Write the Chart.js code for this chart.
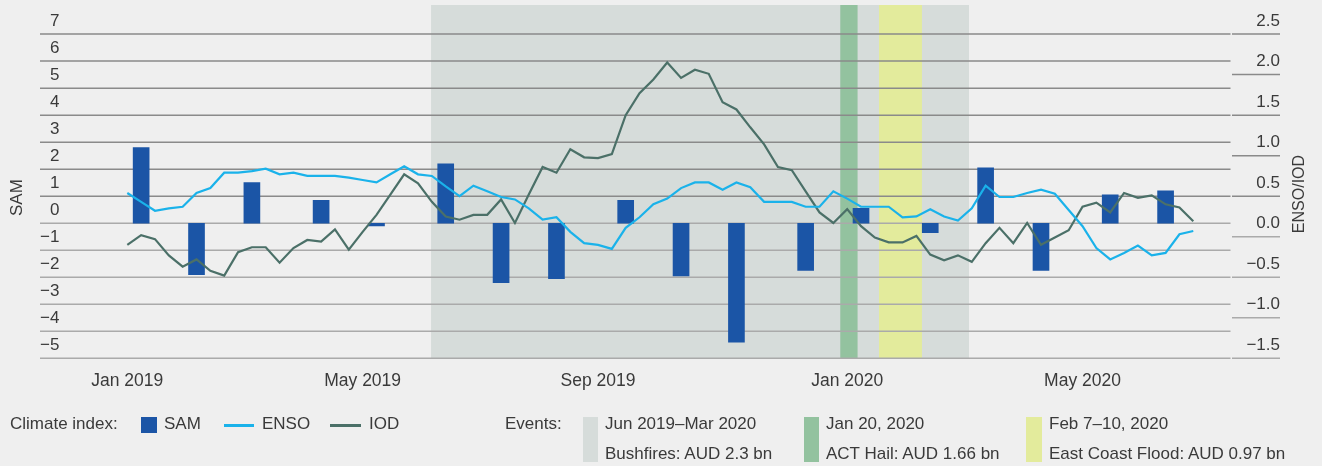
<!DOCTYPE html>
<html>
<head>
<meta charset="utf-8">
<script src="https://cdn.jsdelivr.net/npm/chart.js@4.4.1/dist/chart.umd.min.js"></script>
<style>
  body { margin: 0; background: #efefef; font-family: "Liberation Sans", Arial, sans-serif; color: #3a3a3a; }
  #wrap { position: relative; width: 1322px; height: 466px; }
  #chart { position: absolute; left: 0; top: 0; }
  .lg { position: absolute; font-size: 17px; line-height: 20px; white-space: nowrap; }
  .sw { position: absolute; }
</style>
</head>
<body>
<div id="wrap">
  <canvas id="chart" width="1322" height="466"></canvas>

  <span class="lg" style="left:10px; top:414px;">Climate index:</span>
  <span class="sw" style="left:141px; top:417px; width:16px; height:16px; background:#1b55a6;"></span>
  <span class="lg" style="left:164px; top:414px;">SAM</span>
  <span class="sw" style="left:224px; top:424px; width:30px; height:3px; background:#1ab2ea;"></span>
  <span class="lg" style="left:262px; top:414px;">ENSO</span>
  <span class="sw" style="left:330px; top:424px; width:31px; height:3px; background:#4b7068;"></span>
  <span class="lg" style="left:369px; top:414px;">IOD</span>

  <span class="lg" style="left:505px; top:414px;">Events:</span>
  <span class="sw" style="left:583px; top:417px; width:15px; height:45px; background:#d6dcda;"></span>
  <span class="lg" style="left:605px; top:414px;">Jun 2019–Mar 2020</span>
  <span class="lg" style="left:605px; top:444px;">Bushfires: AUD 2.3 bn</span>
  <span class="sw" style="left:804px; top:417px; width:15px; height:45px; background:#93c29f;"></span>
  <span class="lg" style="left:826px; top:414px;">Jan 20, 2020</span>
  <span class="lg" style="left:826px; top:444px;">ACT Hail: AUD 1.66 bn</span>
  <span class="sw" style="left:1026px; top:417px; width:16px; height:45px; background:#e3eb9c;"></span>
  <span class="lg" style="left:1049px; top:414px;">Feb 7–10, 2020</span>
  <span class="lg" style="left:1049px; top:444px;">East Coast Flood: AUD 0.97 bn</span>
</div>

<script>
// x axis: week index from the first week of Jan 2019
var xTickPos = [0, 17, 34, 52, 69];
var xTickLabels = ["Jan 2019", "May 2019", "Sep 2019", "Jan 2020", "May 2020"];

// SAM, monthly bars (week index of each bar)
var samWeek = [1, 5, 9, 14, 18, 23, 27, 31, 36, 40, 44, 49, 53, 58, 62, 66, 71, 75];
var samValues = [2.8, -1.9, 1.5, 0.85, -0.1, 2.2, -2.2, -2.05, 0.85, -1.95, -4.4, -1.75, 0.55, -0.35, 2.05, -1.75, 1.05, 1.2];

// ENSO and IOD, weekly
var enso = [
  0.54, 0.43, 0.32, 0.35, 0.37, 0.54, 0.60, 0.79, 0.79, 0.81, 0.84, 0.77, 0.79, 0.75,
  0.75, 0.75, 0.73, 0.70, 0.67, 0.77, 0.87, 0.77, 0.75, 0.62, 0.50, 0.63, 0.56, 0.49,
  0.46, 0.35, 0.21, 0.24, 0.06, -0.08, -0.10, -0.15, 0.11, 0.24, 0.40, 0.47, 0.60, 0.67,
  0.67, 0.58, 0.67, 0.61, 0.43,
  0.43, 0.43, 0.37, 0.37, 0.56, 0.47, 0.37, 0.37, 0.37, 0.24, 0.25, 0.34, 0.25, 0.20,
  0.35, 0.63, 0.49, 0.49, 0.54, 0.58, 0.53, 0.33, 0.13, -0.14, -0.28, -0.20, -0.11, -0.23,
  -0.20, 0.03, 0.07
];
var iod = [
  -0.10, 0.02, -0.03, -0.23, -0.37, -0.28, -0.42, -0.48, -0.19, -0.13, -0.13, -0.32, -0.14, -0.04,
  -0.06, 0.09, -0.16, 0.06, 0.27, 0.52, 0.77, 0.66, 0.43, 0.25, 0.21, 0.27, 0.27, 0.46,
  0.17, 0.52, 0.86, 0.79, 1.08, 0.98, 0.97, 1.02, 1.50, 1.77, 1.94, 2.15, 1.96, 2.06,
  2.01, 1.66, 1.57, 1.35, 1.14,
  0.86, 0.82, 0.56, 0.30, 0.17, 0.34, 0.13, -0.01, -0.07, -0.07, 0.01, -0.22, -0.29, -0.23,
  -0.31, -0.08, 0.11, -0.08, 0.17, -0.10, -0.01, 0.08, 0.37, 0.42, 0.30, 0.54, 0.48, 0.51,
  0.40, 0.36, 0.19
];

// events (week index start / end)
var eventNames = ["Bushfires", "ACT Hail", "East Coast Flood"];
var eventStart = [21.94, 51.5, 54.3];
var eventEnd = [60.8, 52.75, 57.4];
var eventColors = ["#d6dcda", "#93c29f", "#e3eb9c"];

var minus = function (s) { return String(s).replace("-", "\u2212"); };
var tickFont = { family: "'Liberation Sans', Arial, sans-serif", size: 17, lineHeight: 0.55 };

var bgPlugin = {
  id: "bg",
  beforeDraw: function (chart) {
    var ctx = chart.ctx;
    ctx.save();
    ctx.fillStyle = "#efefef";
    ctx.fillRect(0, 0, chart.width, chart.height);
    ctx.restore();
  },
  beforeDatasetsDraw: function (chart) {
    var ctx = chart.ctx, a = chart.chartArea, xs = chart.scales.x;
    ctx.save();
    // event bands
    for (var i = 0; i < eventStart.length; i++) {
      var x0 = xs.getPixelForValue(eventStart[i]);
      var x1 = xs.getPixelForValue(eventEnd[i]);
      ctx.fillStyle = eventColors[i];
      ctx.fillRect(x0, a.top, x1 - x0, a.bottom - a.top);
    }
    // grid lines: left axis over the plot, right axis only by its labels
    var split = a.right - 49.5;
    ctx.lineWidth = 1.5;
    chart.scales.y.ticks.forEach(function (t) {
      var y = chart.scales.y.getPixelForValue(t.value);
      ctx.strokeStyle = t.value > 0 ? "#8a8a8a" : "#aaaaaa";
      ctx.beginPath();
      ctx.moveTo(a.left, y);
      ctx.lineTo(split, y);
      ctx.stroke();
    });
    chart.scales.y2.ticks.forEach(function (t) {
      var y = chart.scales.y2.getPixelForValue(t.value);
      ctx.strokeStyle = t.value > 0 ? "#8a8a8a" : "#aaaaaa";
      ctx.beginPath();
      ctx.moveTo(split + 1.5, y);
      ctx.lineTo(a.right, y);
      ctx.stroke();
    });
    ctx.restore();
  },
  afterDraw: function (chart) {
    var ctx = chart.ctx, a = chart.chartArea;
    ctx.save();
    ctx.fillStyle = "#3a3a3a";
    ctx.font = "17px 'Liberation Sans', Arial, sans-serif";
    ctx.textAlign = "center";
    ctx.textBaseline = "middle";
    ctx.translate(17, a.top + 0.545 * (a.bottom - a.top));
    ctx.rotate(-Math.PI / 2);
    ctx.fillText("SAM", 0, 0);
    ctx.restore();
    ctx.save();
    ctx.fillStyle = "#3a3a3a";
    ctx.font = "16px 'Liberation Sans', Arial, sans-serif";
    ctx.textAlign = "center";
    ctx.textBaseline = "middle";
    ctx.translate(a.right + 20, a.top + 0.535 * (a.bottom - a.top));
    ctx.rotate(-Math.PI / 2);
    ctx.fillText("ENSO/IOD", 0, 0);
    ctx.restore();
  }
};

var ctx = document.getElementById("chart").getContext("2d");
new Chart(ctx, {
  type: "bar",
  data: {
    datasets: [
      {
        type: "line",
        label: "ENSO",
        data: enso.map(function (v, i) { return { x: i, y: v }; }),
        borderColor: "#1ab2ea",
        borderWidth: 2.2,
        pointRadius: 0,
        tension: 0,
        yAxisID: "y2",
        order: 0,
      },
      {
        type: "line",
        label: "IOD",
        data: iod.map(function (v, i) { return { x: i, y: v }; }),
        borderColor: "#4b7068",
        borderWidth: 2.2,
        pointRadius: 0,
        tension: 0,
        yAxisID: "y2",
        order: 1,
      },
      {
        label: "SAM",
        data: samWeek.map(function (w, i) { return { x: w, y: samValues[i] }; }),
        backgroundColor: "#1b55a6",
        borderWidth: 0,
        barThickness: 16,
        yAxisID: "y",
        order: 2,
      },
    ],
  },
  options: {
    responsive: false,
    animation: false,
    layout: { padding: { left: 40, right: 42, top: 5, bottom: 61.7 } },
    plugins: {
      legend: { display: false },
      tooltip: { enabled: false },
    },
    scales: {
      x: {
        type: "linear",
        offset: false,
        min: -6.306,
        max: 83.264,
        grid: { display: false, drawTicks: false, offset: false },
        border: { display: false },
        afterBuildTicks: function (scale) {
          scale.ticks = xTickPos.map(function (v) { return { value: v }; });
        },
        ticks: {
          autoSkip: false,
          maxRotation: 0,
          padding: 12.5,
          color: "#3a3a3a",
          font: { family: "'Liberation Sans', Arial, sans-serif", size: 17.5 },
          callback: function (v, i) { return xTickLabels[i]; },
        },
      },
      y: {
        position: "left",
        min: -5,
        max: 8.077,
        grid: { display: false, drawTicks: false },
        border: { display: false },
        afterBuildTicks: function (scale) {
          scale.ticks = scale.ticks.filter(function (t) { return t.value <= 7 && Number.isInteger(t.value); });
        },
        ticks: {
          stepSize: 1,
          mirror: true,
          crossAlign: "far",
          padding: 0,
          labelOffset: -13,
          color: "#3a3a3a",
          font: tickFont,
          callback: function (v) { return minus(v); },
        },
      },
      y2: {
        position: "right",
        min: -1.5,
        max: 2.859,
        grid: { display: false, drawTicks: false },
        border: { display: false },
        afterBuildTicks: function (scale) {
          scale.ticks = scale.ticks.filter(function (t) { return t.value <= 2.5 && Math.abs(t.value * 2 - Math.round(t.value * 2)) < 1e-6; });
        },
        ticks: {
          stepSize: 0.5,
          mirror: true,
          crossAlign: "near",
          padding: 0,
          labelOffset: -13,
          color: "#3a3a3a",
          font: tickFont,
          callback: function (v) { return minus(Number(v).toFixed(1)); },
        },
      },
    },
  },
  plugins: [bgPlugin],
});
</script>
</body>
</html>
